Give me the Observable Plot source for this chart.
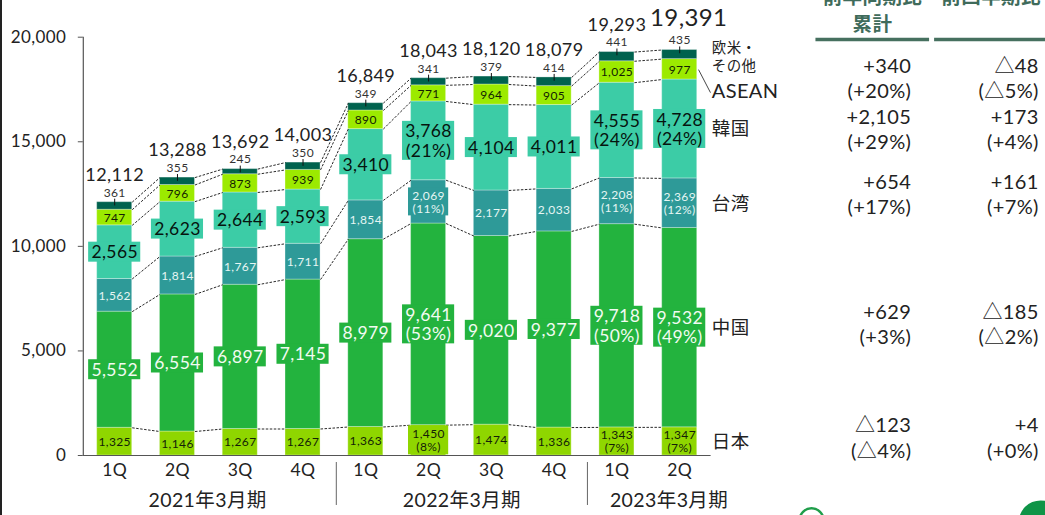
<!DOCTYPE html>
<html lang="ja">
<head>
<meta charset="utf-8">
<script src="https://cdn.jsdelivr.net/npm/d3@7"></script>
<script src="https://cdn.jsdelivr.net/npm/@observablehq/plot@0.6"></script>
<style>
  html, body { margin: 0; padding: 0; background: #fff; overflow: hidden; }
  #page { position: relative; width: 1045px; height: 515px; overflow: hidden; }
  #edge { position: absolute; left: 0; top: 0; width: 2px; height: 515px; background: #222; }
  svg { display: block; }
</style>
</head>
<body>
<div id="page"><div id="chart"></div><div id="edge"></div></div>
<script>
// Quarterly sales by region, 百万円
const quarters = ["1Q", "2Q", "3Q", "4Q", "1Q", "2Q", "3Q", "4Q", "1Q", "2Q"];
const japan  = [1325, 1146, 1267, 1267, 1363, 1450, 1474, 1336, 1343, 1347];
const china  = [5552, 6554, 6897, 7145, 8979, 9641, 9020, 9377, 9718, 9532];
const taiwan = [1562, 1814, 1767, 1711, 1854, 2069, 2177, 2033, 2208, 2369];
const korea  = [2565, 2623, 2644, 2593, 3410, 3768, 4104, 4011, 4555, 4728];
const asean  = [747, 796, 873, 939, 890, 771, 964, 905, 1025, 977];
const others = [361, 355, 245, 350, 349, 341, 379, 414, 441, 435];
const totals = [12112, 13288, 13692, 14003, 16849, 18043, 18120, 18079, 19293, 19391];

// Composition shares printed under the value, by quarter index
const japanShare  = {5: "8%", 8: "7%", 9: "7%"};
const chinaShare  = {5: "53%", 8: "50%", 9: "49%"};
const taiwanShare = {5: "11%", 8: "11%", 9: "12%"};
const koreaShare  = {5: "21%", 8: "24%", 9: "24%"};

const periods = ["2021年3月期", "2022年3月期", "2023年3月期"];

const regionNames = ["日本", "中国", "台湾", "韓国"];
const yoy = ["+340\n(+20%)", "+2,105\n(+29%)", "+654\n(+17%)", "+629\n(+3%)", "△123\n(△4%)"];
const qoq = ["△48\n(△5%)", "+173\n(+4%)", "+161\n(+7%)", "△185\n(△2%)", "+4\n(+0%)"];
const headers = ["前年同期比\n累計", "前四半期比"];

// Layout, in the units of the x (quarter index) and y (value) scales
const halfBar = 0.279;
const yoyX = 12.69, qoqX = 14.72;
const tableRowY = [18090, 15650, 12520, 6310, 885];
const regionRowY = [650, 6070, 12040, 15600];
const regionX = 9.51;
const periodX = [1.48, 5.53, 8.83];
const separatorX = [3.53, 7.53];

const series = [
  {key: "japan",  values: japan,  share: japanShare,  fill: "#8fd600", ink: "#141e08", size: 12, boxed: i => i === 5, boxW: 0.32, boxH: 29},
  {key: "china",  values: china,  share: chinaShare,  fill: "#23b33e", ink: "#f2fbf2", size: 17.5, boxed: () => true,  boxW: 0.415, boxH: 20, boxH2: 39},
  {key: "taiwan", values: taiwan, share: taiwanShare, fill: "#2e9a98", ink: "#e6f6f4", size: 12, boxed: i => i === 5, boxW: 0.32, boxH: 28},
  {key: "korea",  values: korea,  share: koreaShare,  fill: "#3ccca6", ink: "#06140f", size: 17.5, boxed: () => true,  boxW: 0.415, boxH: 20, boxH2: 39},
  {key: "asean",  values: asean,  share: {},          fill: "#9cea00", ink: "#141e03", size: 12, boxed: () => false},
  {key: "others", values: others, share: {},          fill: "#00624e", ink: "#333",    size: 12, boxed: () => false}
];

// Stack the segments quarter by quarter
const segments = [];
const running = quarters.map(() => 0);
for (const s of series) {
  s.values.forEach((v, i) => {
    const y1 = running[i], y2 = y1 + v;
    running[i] = y2;
    const share = s.share[i];
    segments.push({
      i, y1, y2, s, share,
      mid: (y1 + y2) / 2,
      label: d3.format(",")(v) + (share ? `\n(${share})` : "")
    });
  });
}

// Dashed connector for every segment top between neighbouring bars
const connectors = segments
  .filter(d => d.i < quarters.length - 1)
  .map(d => {
    const next = segments.find(e => e.s === d.s && e.i === d.i + 1);
    return {x1: d.i + halfBar, x2: d.i + 1 - halfBar, y1: d.y2, y2: next.y2};
  });

const yPerPixel = 20000 / (455 - 36.7);
const boxes = segments
  .filter(d => d.s.boxed(d.i))
  .map(d => {
    const h = (d.share && d.s.boxH2 ? d.s.boxH2 : d.s.boxH) * yPerPixel / 2;
    return {x1: d.i - d.s.boxW, x2: d.i + d.s.boxW, y1: d.mid - h, y2: d.mid + h, fill: d.s.fill};
  });

const inner = segments.filter(d => d.s.key !== "others");
const tops = segments.filter(d => d.s.key === "others");
const font = 'Lato, "Noto Sans CJK JP", sans-serif';
const ink = "#222";

const plot = Plot.plot({
  width: 1045,
  height: 515,
  marginLeft: 82.8,
  marginRight: 334.4,
  marginTop: 36.7,
  marginBottom: 60,
  style: {fontFamily: font, fontWeight: 400, letterSpacing: "0.04em", background: "#fff", color: ink, overflow: "hidden"},
  x: {domain: [-0.5, 9.5], label: null},
  y: {domain: [0, 20000], label: null},
  marks: [
    // Axes
    Plot.axisY({ticks: d3.range(0, 20001, 5000), tickSize: 5, tickPadding: 12, fontSize: 17, label: null, tickFormat: d3.format(","), stroke: "#555", color: ink}),
    Plot.axisX(d3.range(quarters.length), {tickSize: 0, tickPadding: 8, fontSize: 17.5, label: null, tickFormat: i => quarters[i], color: ink}),
    Plot.ruleX([-0.5], {stroke: "#555", strokeWidth: 1.2}),

    // Stacked bars
    Plot.rect(segments, {x1: d => d.i - halfBar, x2: d => d.i + halfBar, y1: "y1", y2: "y2", fill: d => d.s.fill, stroke: "#fff", strokeOpacity: 0.3, strokeWidth: 1}),
    Plot.ruleY([0], {stroke: "#555", strokeWidth: 1.2}),

    // Connectors between bars
    Plot.link(connectors, {x1: "x1", x2: "x2", y1: "y1", y2: "y2", stroke: "#111", strokeWidth: 0.9, strokeDasharray: "2.5,1.5"}),

    // Value labels with their backing boxes
    Plot.rect(boxes, {x1: "x1", x2: "x2", y1: "y1", y2: "y2", fill: "fill"}),
    Plot.text(inner, {x: "i", y: "mid", text: "label", fill: d => d.s.ink, fontSize: d => d.s.size, lineHeight: 1.1, lineAnchor: "middle"}),

    // Top segment: leader tick and its value above the bar
    Plot.ruleX(tops, {x: "i", y1: d => d.y2 - 180, y2: d => d.y2 + 145, stroke: "#111", strokeWidth: 1}),
    Plot.text(tops, {x: "i", y: "y2", text: "label", dy: -9.5, fill: "#333", fontSize: 12, lineAnchor: "middle"}),

    // Quarter totals; the latest one is set larger
    Plot.text(quarters.slice(0, 9).map((_, i) => i), {x: d => d, y: d => running[d], text: d => d3.format(",")(totals[d]), dy: -27, fontSize: 18, fill: ink, lineAnchor: "middle"}),
    Plot.text([9], {x: d => d, y: d => running[d], text: d => d3.format(",")(totals[d]), dx: 9, dy: -32, fontSize: 24, fill: ink, lineAnchor: "middle"}),

    // Fiscal year captions and dividers below the axis
    Plot.text(periods, {x: (d, i) => periodX[i], y: -2170, text: d => d, fontSize: 19.5, fill: ink, lineAnchor: "middle"}),
    Plot.ruleX(separatorX, {y1: -335, y2: -2390, stroke: "#666", strokeWidth: 1}),

    // Region names beside the last bar
    Plot.text(regionNames, {x: regionX, y: (d, i) => regionRowY[i], text: d => d, textAnchor: "start", fontSize: 18.5, fill: ink, lineAnchor: "middle"}),
    Plot.text(["ASEAN"], {x: regionX, y: 17400, text: d => d, textAnchor: "start", fontSize: 20, fill: ink, lineAnchor: "middle"}),
    Plot.text(["欧米・\nその他"], {x: regionX, y: 19077, text: d => d, textAnchor: "start", fontSize: 14.5, lineHeight: 1.25, fill: ink, lineAnchor: "middle"}),
    Plot.link([{x1: 9.3, y1: 18450, x2: 9.49, y2: 17350}], {x1: "x1", x2: "x2", y1: "y1", y2: "y2", stroke: "#333", strokeWidth: 0.9}),

    // Change table on the right
    Plot.text(yoy, {x: yoyX, y: (d, i) => tableRowY[i], text: d => d, textAnchor: "end", fontSize: 20, lineHeight: 1.27, fill: ink, lineAnchor: "middle"}),
    Plot.text(qoq, {x: qoqX, y: (d, i) => tableRowY[i], text: d => d, textAnchor: "end", fontSize: 20, lineHeight: 1.27, fill: ink, lineAnchor: "middle"}),
    Plot.text(headers, {x: [12.07, 13.96], y: [21340, 22000], text: d => d, fontSize: 19.5, fontWeight: 700, lineHeight: 1.35, fill: "#3f6b5b", lineAnchor: "middle"}),
    Plot.ruleY([19890], {x1: 11.17, x2: 12.98, stroke: "#46705f", strokeWidth: 3.5}),
    Plot.ruleY([19890], {x1: 13.06, x2: 15.2, stroke: "#46705f", strokeWidth: 3.5}),

    // Corner badges
    Plot.dot([0], {x: 11.1, y: -3100, r: 12, stroke: "#1f9e4a", strokeWidth: 2.5, fill: "none"}),
    Plot.dot([0], {x: 14.75, y: -3200, r: 22, fill: "#0f9447", stroke: "none"})
  ]
});

document.getElementById("chart").appendChild(plot);
</script>
</body>
</html>
